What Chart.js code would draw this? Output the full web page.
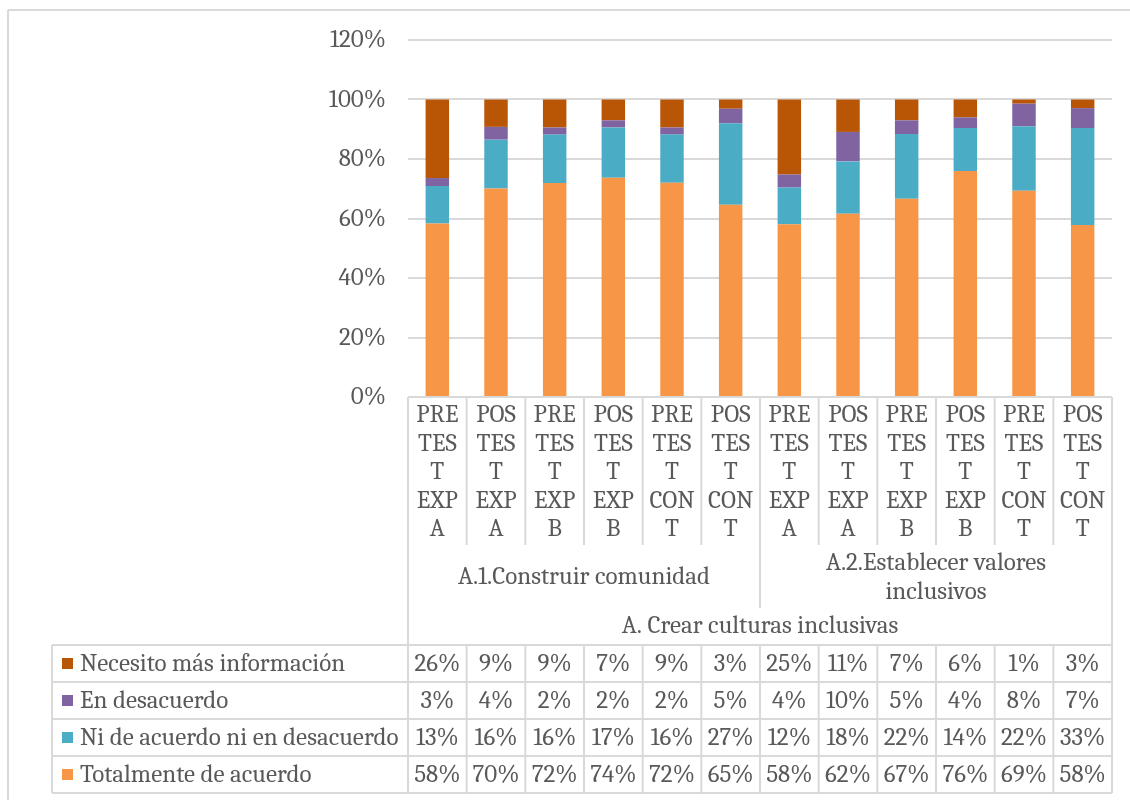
<!DOCTYPE html>
<html>
<head>
<meta charset="utf-8">
<script src="https://cdn.jsdelivr.net/npm/chart.js@4.4.1/dist/chart.umd.min.js"></script>
<style>
html, body { margin: 0; padding: 0; background: #fff; }
</style>
</head>
<body>
<canvas id="chart_culturasInclusivas" width="1130" height="800"></canvas>
<script>
// categories (wrapped the way the source chart shows them)
var categories = [
    ['PRE', 'TES', 'T', 'EXP', 'A'], ['POS', 'TES', 'T', 'EXP', 'A'],
    ['PRE', 'TES', 'T', 'EXP', 'B'], ['POS', 'TES', 'T', 'EXP', 'B'],
    ['PRE', 'TES', 'T', 'CON', 'T'], ['POS', 'TES', 'T', 'CON', 'T'],
    ['PRE', 'TES', 'T', 'EXP', 'A'], ['POS', 'TES', 'T', 'EXP', 'A'],
    ['PRE', 'TES', 'T', 'EXP', 'B'], ['POS', 'TES', 'T', 'EXP', 'B'],
    ['PRE', 'TES', 'T', 'CON', 'T'], ['POS', 'TES', 'T', 'CON', 'T']
];
var groupLabels = [['A.1.Construir comunidad'], ['A.2.Establecer valores', 'inclusivos']];
var groupSize = 6;
var topGroupLabel = 'A. Crear culturas inclusivas';

// percentages; the table shows them rounded
var totalmente = [58.3, 70.1, 71.9, 73.7, 72.0, 64.6, 58.1, 61.6, 66.6, 76.0, 69.3, 57.8];
var niDeAcuerdo = [12.6, 16.4, 16.3, 16.9, 16.2, 27.4, 12.3, 17.6, 21.8, 14.4, 21.7, 32.6];
var enDesacuerdo = [2.7, 4.3, 2.4, 2.4, 2.4, 4.9, 4.4, 9.9, 4.6, 3.6, 7.6, 6.7];
var necesito = [26.4, 9.2, 9.4, 7.0, 9.4, 3.1, 25.2, 10.9, 7.0, 6.0, 1.4, 2.9];

var yTicks = [0, 20, 40, 60, 80, 100, 120];

var FONT = "Cambria, 'Liberation Serif', 'DejaVu Serif', serif";
var TEXT = '#595959';
var LINE = '#d9d9d9';

var series = [
    { label: 'Totalmente de acuerdo', data: totalmente, color: '#F79646' },
    { label: 'Ni de acuerdo ni en desacuerdo', data: niDeAcuerdo, color: '#4BACC6' },
    { label: 'En desacuerdo', data: enDesacuerdo, color: '#8064A2' },
    { label: 'Necesito más información', data: necesito, color: '#B85606' }
];

var tablePlugin = {
    id: 'dataTable',
    beforeDraw: (chart) => {
        const ctx = chart.ctx;
        ctx.save();
        ctx.fillStyle = 'white';
        ctx.fillRect(0, 0, chart.width, chart.height);
        ctx.restore();
    },
    afterDraw: (chart) => {
        const ctx = chart.ctx;
        const area = chart.chartArea;
        const xs = chart.scales.x;
        const half = (xs.getPixelForValue(1) - xs.getPixelForValue(0)) / 2;
        const edges = categories.map((c, i) => xs.getPixelForValue(i) - half);
        edges.push(xs.getPixelForValue(categories.length - 1) + half);

        const top = area.bottom;
        const catBottom = top + 148;
        const groupBottom = top + 211;
        const rowTop = top + 248;
        const rowH = 37;
        const legendLeft = 52;
        const tableBottom = rowTop + rowH * 4;

        ctx.save();
        ctx.strokeStyle = LINE;
        ctx.lineWidth = 2;
        const line = (x1, y1, x2, y2) => {
            ctx.beginPath(); ctx.moveTo(x1, y1); ctx.lineTo(x2, y2); ctx.stroke();
        };

        // outer frame
        line(8, 10, 8, chart.height);
        line(8, 10, chart.width, 10);

        // axis / category header
        line(area.left, top, area.right, top);
        line(area.left, top, area.left, tableBottom);
        line(area.right, top, area.right, tableBottom);
        for (let i = 1; i < categories.length; i++) {
            const bottom = (i % groupSize === 0) ? groupBottom : catBottom;
            line(edges[i], top, edges[i], bottom);
        }

        // data table grid
        for (let r = 0; r <= 4; r++) {
            line(legendLeft, rowTop + r * rowH, area.right, rowTop + r * rowH);
        }
        line(legendLeft, rowTop, legendLeft, tableBottom);
        for (let i = 1; i < categories.length; i++) {
            line(edges[i], rowTop, edges[i], tableBottom);
        }

        // texts
        ctx.fillStyle = TEXT;
        ctx.font = '25px ' + FONT;
        ctx.textAlign = 'center';
        ctx.textBaseline = 'middle';
        categories.forEach((lines, i) => {
            const cx = xs.getPixelForValue(i);
            lines.forEach((t, k) => ctx.fillText(t, cx, top + 18 + k * 28.5));
        });
        groupLabels.forEach((lines, g) => {
            const cx = (edges[g * groupSize] + edges[(g + 1) * groupSize]) / 2;
            const mid = top + 180;
            lines.forEach((t, k) => {
                ctx.fillText(t, cx, mid + (k - (lines.length - 1) / 2) * 29);
            });
        });
        ctx.fillText(topGroupLabel, (area.left + area.right) / 2, top + 229);

        // rows, top to bottom = reverse of stacking order
        series.slice().reverse().forEach((s, r) => {
            const cy = rowTop + rowH * (r + 0.5);
            ctx.fillStyle = s.color;
            ctx.fillRect(62, cy - 5.5, 11, 11);
            ctx.fillStyle = TEXT;
            ctx.textAlign = 'left';
            ctx.fillText(s.label, 80, cy);
            ctx.textAlign = 'center';
            s.data.forEach((v, i) => ctx.fillText(Math.round(v) + '%', xs.getPixelForValue(i), cy));
        });
        ctx.restore();
    }
};

var chart_culturasInclusivas = new Chart(document.getElementById('chart_culturasInclusivas'), {
    type: 'bar',
    data: {
        labels: categories.map(c => c.join('')),
        datasets: series.map(s => ({
            label: s.label,
            data: s.data,
            backgroundColor: s.color,
            borderWidth: 0,
            barPercentage: 0.4,
            categoryPercentage: 1.0
        }))
    },
    options: {
        animation: false,
        responsive: false,
        layout: {
            padding: { left: 0, right: 18, top: 40, bottom: 403 }
        },
        plugins: {
            legend: { display: false },
            tooltip: { enabled: false }
        },
        scales: {
            x: {
                stacked: true,
                display: false
            },
            y: {
                stacked: true,
                min: 0,
                max: 120,
                afterBuildTicks: (scale) => {
                    scale.ticks = yTicks.map(v => ({ value: v }));
                },
                afterFit: (scale) => {
                    scale.width = 408;
                },
                border: { display: false },
                grid: {
                    color: LINE,
                    lineWidth: 2,
                    drawTicks: false
                },
                ticks: {
                    padding: 22,
                    color: TEXT,
                    font: { family: FONT, size: 25 },
                    callback: function(value) {
                        return value + '%';
                    }
                }
            }
        }
    },
    plugins: [tablePlugin]
});
</script>
</body>
</html>
